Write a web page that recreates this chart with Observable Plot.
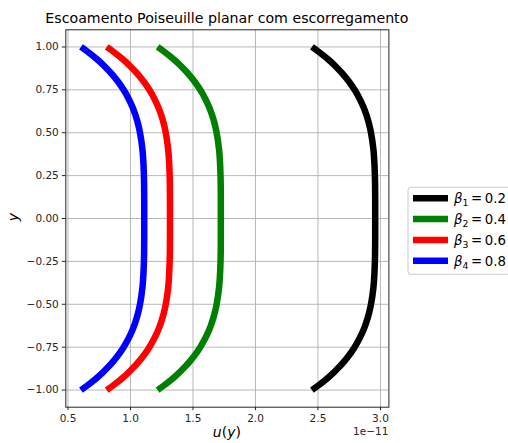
<!DOCTYPE html>
<html>
<head>
<meta charset="utf-8">
<script src="https://cdn.jsdelivr.net/npm/d3@7"></script>
<script src="https://cdn.jsdelivr.net/npm/@observablehq/plot@0.6"></script>
<style>
  html, body { margin: 0; padding: 0; background: #fff; }
  svg { font-family: "DejaVu Sans", sans-serif; }
</style>
</head>
<body>
<div id="chart"></div>
<script>
// Data (u in units of 1e-11)
const yValues = [-1, -0.975, -0.95, -0.925, -0.9, -0.875, -0.85, -0.8, -0.75, -0.7, -0.65, -0.6, -0.55, -0.5, -0.4, -0.3, -0.2, -0.1, 0, 0.1, 0.2, 0.3, 0.4, 0.5, 0.55, 0.6, 0.65, 0.7, 0.75, 0.8, 0.85, 0.875, 0.9, 0.925, 0.95, 0.975, 1];
const uBeta1 = [2.452, 2.500, 2.544, 2.585, 2.623, 2.657, 2.690, 2.746, 2.793, 2.832, 2.864, 2.889, 2.909, 2.924, 2.944, 2.953, 2.957, 2.958, 2.958, 2.958, 2.957, 2.953, 2.944, 2.924, 2.909, 2.889, 2.864, 2.832, 2.793, 2.746, 2.690, 2.657, 2.623, 2.585, 2.544, 2.500, 2.452];
const uBeta2 = [1.217, 1.265, 1.309, 1.350, 1.388, 1.422, 1.455, 1.511, 1.558, 1.597, 1.629, 1.654, 1.674, 1.689, 1.709, 1.718, 1.722, 1.723, 1.723, 1.723, 1.722, 1.718, 1.709, 1.689, 1.674, 1.654, 1.629, 1.597, 1.558, 1.511, 1.455, 1.422, 1.388, 1.350, 1.309, 1.265, 1.217];
const uBeta3 = [0.810, 0.858, 0.902, 0.943, 0.981, 1.015, 1.048, 1.104, 1.151, 1.190, 1.222, 1.247, 1.267, 1.282, 1.302, 1.311, 1.315, 1.316, 1.316, 1.316, 1.315, 1.311, 1.302, 1.282, 1.267, 1.247, 1.222, 1.190, 1.151, 1.104, 1.048, 1.015, 0.981, 0.943, 0.902, 0.858, 0.810];
const uBeta4 = [0.604, 0.652, 0.696, 0.737, 0.775, 0.809, 0.842, 0.898, 0.945, 0.984, 1.016, 1.041, 1.061, 1.076, 1.096, 1.105, 1.109, 1.110, 1.110, 1.110, 1.109, 1.105, 1.096, 1.076, 1.061, 1.041, 1.016, 0.984, 0.945, 0.898, 0.842, 0.809, 0.775, 0.737, 0.696, 0.652, 0.604];
const betas = [0.2, 0.4, 0.6, 0.8];
const seriesColors = ["black", "#008000", "#ff0000", "#0000ff"];
const xTicks = [0.5, 1.0, 1.5, 2.0, 2.5, 3.0];
const yTicks = [-1.0, -0.75, -0.5, -0.25, 0, 0.25, 0.5, 0.75, 1.0];
const titleText = "Escoamento Poiseuille planar com escorregamento";
const offsetText = "1e\u221211";

const allSeries = [uBeta1, uBeta2, uBeta3, uBeta4];
const rows = [];
allSeries.forEach((arr, i) => arr.forEach((u, j) => rows.push({series: i, u, y: yValues[j]})));

const W = 508, H = 443;
const mL = 65.3, mR = W - 388.4, mT = 29.3, mB = H - 406.7;

const plot = Plot.plot({
  width: W,
  height: H,
  marginLeft: mL,
  marginRight: mR,
  marginTop: mT,
  marginBottom: mB,
  style: {fontFamily: "DejaVu Sans, sans-serif", background: "white", overflow: "visible"},
  x: {domain: [0.4825, 3.0675], label: null},
  y: {domain: [-1.1, 1.1], label: null},
  marks: [
    Plot.gridX(xTicks, {stroke: "#b0b0b0", strokeOpacity: 1, strokeWidth: 0.9}),
    Plot.gridY(yTicks, {stroke: "#b0b0b0", strokeOpacity: 1, strokeWidth: 0.9}),
    ...allSeries.map((arr, i) =>
      Plot.line(rows.filter(d => d.series === i), {
        x: "u", y: "y", stroke: seriesColors[i], strokeWidth: 6.5,
        curve: "monotone-y", strokeLinecap: "butt", strokeLinejoin: "round"
      })
    ),
    Plot.frame({stroke: "#262626", strokeWidth: 1}),
    Plot.axisX(xTicks, {tickFormat: d3.format(".1f"), tickSize: 3.5, tickPadding: 3.5, fontSize: 10.5, stroke: "#262626", fill: "#262626"}),
    Plot.axisY(yTicks, {tickFormat: d3.format(".2f"), tickSize: 3.5, tickPadding: 3.5, fontSize: 10.5, stroke: "#262626", fill: "#262626"})
  ]
});

document.getElementById("chart").appendChild(plot);
const svg = d3.select(plot);

// Title
svg.append("text")
  .attr("x", (mL + (W - mR)) / 2).attr("y", 23)
  .attr("text-anchor", "middle").attr("font-size", 14.2).attr("fill", "#000")
  .text(titleText);

// X label u(y)
const xl = svg.append("text")
  .attr("x", (mL + (W - mR)) / 2).attr("y", 437)
  .attr("text-anchor", "middle").attr("font-size", 14).attr("fill", "#000");
xl.append("tspan").attr("font-style", "italic").text("u");
xl.append("tspan").text("(");
xl.append("tspan").attr("font-style", "italic").text("y");
xl.append("tspan").text(")");

// Y label
svg.append("text")
  .attr("transform", "translate(18,217) rotate(-90)")
  .attr("text-anchor", "middle").attr("font-size", 14).attr("font-style", "italic").attr("fill", "#000")
  .text("y");

// Offset text
svg.append("text")
  .attr("x", W - mR).attr("y", 435)
  .attr("text-anchor", "end").attr("font-size", 10.5).attr("fill", "#262626")
  .text(offsetText);

// Legend
const lg = svg.append("g").attr("text-anchor", "start");
lg.append("rect")
  .attr("x", 408).attr("y", 187.3).attr("width", 120).attr("height", 87)
  .attr("rx", 3).attr("fill", "white").attr("fill-opacity", 0.8)
  .attr("stroke", "#cccccc").attr("stroke-width", 1);
betas.forEach((b, i) => {
  const cy = 198.3 + i * 20.8;
  lg.append("line")
    .attr("x1", 413).attr("x2", 448).attr("y1", cy).attr("y2", cy)
    .attr("stroke", seriesColors[i]).attr("stroke-width", 6.5);
  const t = lg.append("text").attr("x", 454).attr("y", cy + 5)
    .attr("text-anchor", "start").attr("font-size", 13.3).attr("fill", "#000");
  t.append("tspan").attr("font-style", "italic").text("\u03b2");
  t.append("tspan").attr("font-size", 9.3).attr("dy", 3).text(String(i + 1));
  t.append("tspan").attr("dy", -3).text("\u2009=\u2009" + b);
});
</script>
</body>
</html>
